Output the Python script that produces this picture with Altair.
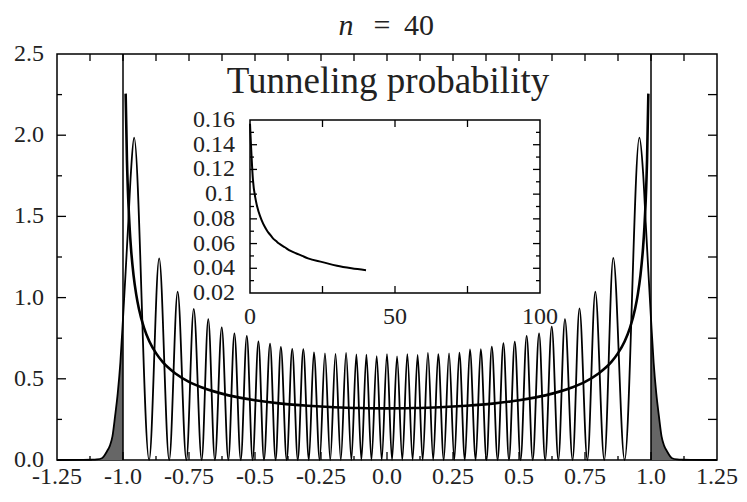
import altair as alt
import pandas as pd

# ---------------- data ----------------
# |psi_40|^2 : peak positions / heights and node positions (scaled x = x / x_turn)
peak_x = [-0.958, -0.863, -0.793, -0.732, -0.677, -0.626, -0.578, -0.531, -0.487, -0.443,
          -0.402, -0.359, -0.317, -0.277, -0.235, -0.195, -0.155, -0.116, -0.078, -0.039,
          0.000, 0.038, 0.077, 0.116, 0.155, 0.194, 0.235, 0.274, 0.314, 0.355,
          0.397, 0.441, 0.484, 0.529, 0.576, 0.624, 0.674, 0.729, 0.789, 0.857, 0.956]
peak_y = [1.985, 1.242, 1.036, 0.930, 0.868, 0.817, 0.780, 0.764, 0.731, 0.717,
          0.696, 0.684, 0.682, 0.663, 0.657, 0.653, 0.659, 0.650, 0.649, 0.640,
          0.652, 0.638, 0.652, 0.647, 0.660, 0.652, 0.657, 0.661, 0.681, 0.683,
          0.698, 0.719, 0.729, 0.764, 0.780, 0.821, 0.868, 0.934, 1.036, 1.245, 1.985]
node_x = [-0.901, -0.825, -0.760, -0.702, -0.652, -0.601, -0.554, -0.509, -0.466, -0.422,
          -0.380, -0.338, -0.296, -0.255, -0.215, -0.175, -0.135, -0.097, -0.059, -0.020,
          0.019, 0.058, 0.097, 0.135, 0.175, 0.215, 0.255, 0.295, 0.336, 0.377,
          0.419, 0.462, 0.506, 0.552, 0.599, 0.649, 0.703, 0.759, 0.823, 0.900]
# outer flanks and tunnelling tails
left_tail_x = [-1.25, -1.15, -1.12, -1.10, -1.08, -1.06, -1.05, -1.04, -1.03, -1.02, -1.01, -1.00,
               -0.99, -0.98, -0.97]
left_tail_y = [0.0, 0.0004, 0.0015, 0.0035, 0.011, 0.055, 0.087, 0.145, 0.27, 0.41, 0.60, 0.87,
               1.16, 1.46, 1.77]
right_tail_x = [0.97, 0.98, 0.99, 1.00, 1.01, 1.02, 1.03, 1.04, 1.05, 1.06, 1.08, 1.10,
                1.12, 1.15, 1.25]
right_tail_y = [1.77, 1.46, 1.16, 0.87, 0.60, 0.41, 0.27, 0.145, 0.087, 0.055, 0.011, 0.0035,
                0.0015, 0.0004, 0.0]

# classical probability density
classical_x = [-0.99, -0.985, -0.98, -0.975, -0.97, -0.96, -0.95, -0.94, -0.92, -0.90, -0.875,
               -0.85, -0.80, -0.75, -0.70, -0.60, -0.50, -0.40, -0.30, -0.20, -0.10, 0.0,
               0.10, 0.20, 0.30, 0.40, 0.50, 0.60, 0.70, 0.75, 0.80, 0.85, 0.875, 0.90,
               0.92, 0.94, 0.95, 0.96, 0.97, 0.975, 0.98, 0.985, 0.99]
classical_y = [2.256, 1.845, 1.600, 1.433, 1.309, 1.137, 1.020, 0.933, 0.812, 0.730, 0.658,
               0.604, 0.531, 0.481, 0.446, 0.398, 0.368, 0.347, 0.334, 0.325, 0.320, 0.318,
               0.320, 0.325, 0.334, 0.347, 0.368, 0.398, 0.446, 0.481, 0.531, 0.604, 0.658,
               0.730, 0.812, 0.933, 1.020, 1.137, 1.309, 1.433, 1.600, 1.845, 2.256]
turning_x = [-1.0, 1.0]

# inset: tunnelling probability vs n
tunnel_n = [0, 1, 2, 3, 4, 5, 6, 7, 8, 9, 10, 12, 14, 16, 18, 20, 25, 30, 35, 40]
tunnel_p = [0.157, 0.112, 0.095, 0.0855, 0.079, 0.074, 0.070, 0.067, 0.064, 0.062, 0.060,
            0.057, 0.054, 0.052, 0.050, 0.048, 0.045, 0.042, 0.040, 0.0385]

# axes
x_tick_vals = [-1.25, -1.0, -0.75, -0.5, -0.25, 0.0, 0.25, 0.5, 0.75, 1.0, 1.25]
x_tick_labels = ["-1.25", "-1.0", "-0.75", "-0.5", "-0.25", "0.0", "0.25", "0.5", "0.75", "1.0", "1.25"]
x_minor = [-1.125, -0.875, -0.625, -0.375, -0.125, 0.125, 0.375, 0.625, 0.875, 1.125]
y_tick_vals = [0.0, 0.5, 1.0, 1.5, 2.0, 2.5]
y_tick_labels = ["0.0", "0.5", "1.0", "1.5", "2.0", "2.5"]
y_minor = [0.25, 0.75, 1.25, 1.75, 2.25]
ix_tick_vals = [0, 50, 100]
ix_tick_labels = ["0", "50", "100"]
ix_inner = [25, 50, 75]
iy_tick_vals = [0.02, 0.04, 0.06, 0.08, 0.10, 0.12, 0.14, 0.16]
iy_tick_labels = ["0.02", "0.04", "0.06", "0.08", "0.1", "0.12", "0.14", "0.16"]
iy_minor = [0.03, 0.05, 0.07, 0.09, 0.11, 0.13, 0.15]

main_title_n = "n"
main_title_eq = "="
main_title_num = "40"
inset_title = "Tunneling probability"

# ---------------- build ----------------
W, H = 660, 406
FONT = "Liberation Serif"
TXT = "#222222"
IX0, IX1, IY0, IY1 = 193, 483, 239, 66

xs = alt.Scale(domain=[-1.25, 1.25], nice=False, zero=False)
ys = alt.Scale(domain=[0, 2.5], nice=False, zero=False)
ixs = alt.Scale(domain=[0, 100], range=[IX0, IX1], nice=False, zero=False)
iys = alt.Scale(domain=[0.02, 0.16], range=[IY0, IY1], nice=False, zero=False)

pts = list(zip(left_tail_x, left_tail_y))
for i in range(len(peak_x)):
    pts.append((peak_x[i], peak_y[i]))
    if i < len(node_x):
        pts.append((node_x[i], 0.0))
pts += list(zip(right_tail_x, right_tail_y))
psi_df = pd.DataFrame(pts, columns=["x", "y"]).sort_values("x")

left_shade = pd.DataFrame([(x, y) for x, y in zip(left_tail_x, left_tail_y) if x <= -1.0],
                          columns=["x", "y"])
right_shade = pd.DataFrame([(x, y) for x, y in zip(right_tail_x, right_tail_y) if x >= 1.0],
                           columns=["x", "y"])

X = lambda f: alt.X(f, scale=xs, axis=None)
Y = lambda f: alt.Y(f, scale=ys, axis=None, stack=None)

shades = [
    alt.Chart(df).mark_area(color="#666666", interpolate="monotone").encode(x=X("x:Q"), y=Y("y:Q"))
    for df in (left_shade, right_shade)
]
turn = alt.Chart(pd.DataFrame({"x": turning_x})).mark_rule(color="black", strokeWidth=1.5).encode(
    x=X("x:Q"), y=alt.value(H), y2=alt.value(0))
psi = alt.Chart(psi_df).mark_line(color="black", strokeWidth=1.8, interpolate="monotone").encode(
    x=X("x:Q"), y=Y("y:Q"))
classical = alt.Chart(pd.DataFrame({"x": classical_x, "y": classical_y})).mark_line(
    color="black", strokeWidth=2.6, interpolate="monotone").encode(x=X("x:Q"), y=Y("y:Q"))

xmaj = pd.DataFrame({"v": x_tick_vals[1:-1]})
xmin = pd.DataFrame({"v": x_minor})
ymaj = pd.DataFrame({"v": y_tick_vals[1:-1]})
ymin = pd.DataFrame({"v": y_minor})

def xticks(df, y0, y1):
    return alt.Chart(df).mark_rule(color="black", strokeWidth=1.3).encode(
        x=X("v:Q"), y=alt.value(y0), y2=alt.value(y1))

def yticks(df, x0, x1):
    return alt.Chart(df).mark_rule(color="black", strokeWidth=1.3).encode(
        y=Y("v:Q"), x=alt.value(x0), x2=alt.value(x1))

ticks = [
    xticks(xmaj, H, H - 8), xticks(xmin, H, H - 4),
    xticks(xmaj, 0, 7), xticks(xmin, 0, 7),
    yticks(ymaj, 0, 9), yticks(ymin, 0, 5),
    yticks(ymaj, W, W - 9), yticks(ymin, W, W - 9),
]

xlab = alt.Chart(pd.DataFrame({"v": x_tick_vals, "t": x_tick_labels})).mark_text(
    font=FONT, fontSize=24, baseline="alphabetic", align="center", color=TXT).encode(
    x=X("v:Q"), y=alt.value(H + 24), text="t:N")
ylab = alt.Chart(pd.DataFrame({"v": y_tick_vals, "t": y_tick_labels})).mark_text(
    font=FONT, fontSize=24, baseline="middle", align="right", color=TXT).encode(
    y=Y("v:Q"), x=alt.value(-13), text="t:N")

def free_text(t, px, py, size, style="normal"):
    return alt.Chart(pd.DataFrame({"t": [t]})).mark_text(
        font=FONT, fontSize=size, fontStyle=style, baseline="alphabetic", align="center",
        color=TXT).encode(x=alt.value(px), y=alt.value(py), text="t:N")

title_parts = [
    free_text(main_title_n, 289, -19, 30, "italic"),
    free_text(main_title_eq, 325, -19, 30),
    free_text(main_title_num, 362, -19, 30),
]

main = alt.layer(*shades, turn, psi, classical, *ticks, xlab, ylab, *title_parts)

# ---------------- inset ----------------
IXf = lambda f: alt.X(f, scale=ixs, axis=None)
IYf = lambda f: alt.Y(f, scale=iys, axis=None)

tunnel = alt.Chart(pd.DataFrame({"n": tunnel_n, "p": tunnel_p})).mark_line(
    color="black", strokeWidth=2, interpolate="monotone").encode(x=IXf("n:Q"), y=IYf("p:Q"))
frame_df = pd.DataFrame({"a": [0], "b": [100], "c": [0.02], "d": [0.16]})
frame = alt.Chart(frame_df).mark_rect(fill=None, fillOpacity=0, stroke="black", strokeWidth=1.5).encode(
    x=IXf("a:Q"), x2="b:Q", y=IYf("c:Q"), y2="d:Q")

def ixticks(vals, y0, y1):
    return alt.Chart(pd.DataFrame({"v": vals})).mark_rule(color="black", strokeWidth=1.3).encode(
        x=IXf("v:Q"), y=alt.value(y0), y2=alt.value(y1))

def iyticks(vals, x0, x1):
    return alt.Chart(pd.DataFrame({"v": vals})).mark_rule(color="black", strokeWidth=1.3).encode(
        y=IYf("v:Q"), x=alt.value(x0), x2=alt.value(x1))

iticks = [
    ixticks(ix_inner, IY0, IY0 - 7), ixticks(ix_inner, IY1, IY1 + 7),
    iyticks(iy_tick_vals[1:-1], IX0, IX0 + 7), iyticks(iy_minor, IX0, IX0 + 4),
    iyticks(iy_tick_vals[1:-1], IX1, IX1 - 7), iyticks(iy_minor, IX1, IX1 - 4),
]
ixlab = alt.Chart(pd.DataFrame({"v": ix_tick_vals, "t": ix_tick_labels})).mark_text(
    font=FONT, fontSize=24, baseline="alphabetic", align="center", color=TXT).encode(
    x=IXf("v:Q"), y=alt.value(IY0 + 31), text="t:N")
iylab = alt.Chart(pd.DataFrame({"v": iy_tick_vals, "t": iy_tick_labels})).mark_text(
    font=FONT, fontSize=24, baseline="middle", align="right", color=TXT).encode(
    y=IYf("v:Q"), x=alt.value(IX0 - 15), text="t:N")
ititle = free_text(inset_title, (IX0 + IX1) / 2 - 7, IY1 - 27, 37)

inset = alt.layer(tunnel, frame, *iticks, ixlab, iylab, ititle)

chart = alt.layer(main, inset).resolve_scale(x="independent", y="independent").properties(
    width=W, height=H,
    autosize=alt.AutoSizeParams(type="none"),
    padding={"left": 49, "top": 46, "right": 22, "bottom": 34},
    background="white",
).configure_view(stroke="black", strokeWidth=1.5)

chart.save("out.html", embed_options={"renderer": "svg", "actions": False})
